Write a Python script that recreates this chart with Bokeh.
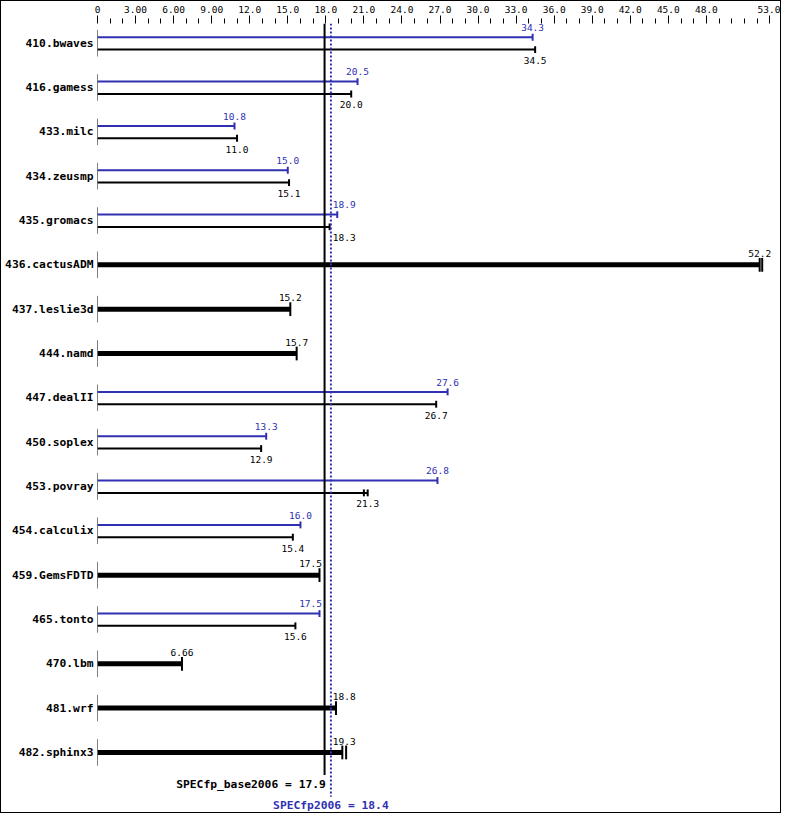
from bokeh.plotting import figure
from bokeh.models import Range1d, FixedTicker, ColumnDataSource
from bokeh.core.properties import value
from bokeh.embed import file_html
from bokeh.resources import INLINE

# ---------------- data ----------------
benchmarks = ["410.bwaves", "416.gamess", "433.milc", "434.zeusmp", "435.gromacs",
              "436.cactusADM", "437.leslie3d", "444.namd", "447.dealII", "450.soplex",
              "453.povray", "454.calculix", "459.GemsFDTD", "465.tonto", "470.lbm",
              "481.wrf", "482.sphinx3"]
base_vals = [34.5, 20.0, 11.0, 15.1, 18.3, 52.2, 15.2, 15.7, 26.7, 12.9,
             21.3, 15.4, 17.5, 15.6, 6.66, 18.8, 19.3]
peak_vals = [34.3, 20.5, 10.8, 15.0, 18.9, None, None, None, 27.6, 13.3,
             26.8, 16.0, None, 17.5, None, None, None]
# extra individual run markers seen on some bars
extra_bench = ["436.cactusADM", "453.povray", "482.sphinx3"]
extra_vals = [52.4, 21.0, 19.6]

spec_base = 17.9
spec_peak = 18.4
base_title = "SPECfp_base2006 = 17.9"
peak_title = "SPECfp2006 = 18.4"

tick_values = [0, 3, 6, 9, 12, 15, 18, 21, 24, 27, 30, 33, 36, 39, 42, 45, 48, 53]
tick_labels = ["0", "3.00", "6.00", "9.00", "12.0", "15.0", "18.0", "21.0", "24.0",
               "27.0", "30.0", "33.0", "36.0", "39.0", "42.0", "45.0", "48.0", "53.0"]
minor_values = [v for v in range(1, 53) if v not in tick_values]

# ---------------- style ----------------
BLUE = "#3030b2"
FONT = "DejaVu Sans Mono"
W, H = 781, 813
TOP = 22
LEFT = 96
ROW_PX = 45.0
y_top = -20 / ROW_PX
y_bot = 16 + 63 / ROW_PX
x_end = 54.0
px_per_x = (W - LEFT) / x_end
DY_PEAK = -6 / ROW_PX
DY_BASE = 6.5 / ROW_PX
CAP_THIN = 3.5 / ROW_PX
CAP_THICK = 7 / ROW_PX
AXSEG = 13.5 / ROW_PX
LBL_PEAK = -16 / ROW_PX
LBL_BASE = 17.5 / ROW_PX
LBL_THICK = -11.5 / ROW_PX
TICK_FS = 9.5
CHAR_W = 0.602 * TICK_FS

def fmt(v):
    return f"{v:.2f}" if v < 10 else f"{v:.1f}"

p = figure(width=W, height=H, output_backend="svg", toolbar_location=None,
           x_range=Range1d(0, x_end), y_range=Range1d(y_bot, y_top),
           x_axis_location="above", min_border_left=LEFT, min_border_top=TOP,
           min_border_right=0, min_border_bottom=0)
p.styles = {"border": "1px solid black"}
p.outline_line_color = None
p.grid.visible = False
p.background_fill_color = "white"
p.border_fill_color = "white"

# top axis
xa = p.xaxis[0]
xa.ticker = FixedTicker(ticks=tick_values, minor_ticks=minor_values)
xa.major_label_overrides = {v: lab for v, lab in zip(tick_values, tick_labels)}
xa.axis_line_color = None
xa.major_tick_out = 8
xa.major_tick_in = 0
xa.minor_tick_out = 5
xa.minor_tick_in = 0
xa.major_tick_line_color = "black"
xa.minor_tick_line_color = "black"
xa.major_label_standoff = 3
xa.major_label_text_font = FONT
xa.major_label_text_font_size = f"{TICK_FS}px"
xa.major_label_text_color = "black"

# left axis with benchmark names
ya = p.yaxis[0]
ya.ticker = FixedTicker(ticks=list(range(len(benchmarks))), minor_ticks=[])
ya.major_label_overrides = {i: b for i, b in enumerate(benchmarks)}
ya.axis_line_color = None
ya.major_tick_line_color = None
ya.minor_tick_line_color = None
ya.major_tick_out = 0
ya.major_tick_in = 0
ya.minor_tick_out = 0
ya.minor_tick_in = 0
ya.major_label_standoff = 4
ya.major_label_text_font = FONT
ya.major_label_text_font_style = "bold"
ya.major_label_text_font_size = "11.3px"
ya.major_label_text_color = "black"

# build bar data
thin_peak = dict(x1=[], y=[])
thin_base = dict(x1=[], y=[])
thick = dict(x1=[], y=[])
caps_thin_peak = dict(x=[], y0=[], y1=[])
caps_thin_base = dict(x=[], y0=[], y1=[])
caps_thick = dict(x=[], y0=[], y1=[])
lab_blue = dict(x=[], y=[], t=[], a=[])
lab_black = dict(x=[], y=[], t=[], a=[])
rowaxis = dict(y0=[], y1=[])

hw4 = (4 * CHAR_W / 2) / px_per_x

def label_pos_for(v):
    if v - hw4 < spec_peak + 0.1 and v + hw4 > spec_base - 0.1:
        if v < spec_base:
            return spec_base - 0.2, "right"
        return spec_peak + 0.15, "left"
    return v, "center"

for i, (b, bv, pv) in enumerate(zip(benchmarks, base_vals, peak_vals)):
    rowaxis["y0"].append(i - AXSEG)
    rowaxis["y1"].append(i + AXSEG)
    if pv is None:
        thick["x1"].append(bv); thick["y"].append(i)
        caps_thick["x"].append(bv); caps_thick["y0"].append(i - CAP_THICK); caps_thick["y1"].append(i + CAP_THICK)
        x, a = label_pos_for(bv)
        lab_black["x"].append(x); lab_black["y"].append(i + LBL_THICK); lab_black["t"].append(fmt(bv)); lab_black["a"].append(a)
    else:
        yp, yb = i + DY_PEAK, i + DY_BASE
        thin_peak["x1"].append(pv); thin_peak["y"].append(yp)
        thin_base["x1"].append(bv); thin_base["y"].append(yb)
        caps_thin_peak["x"].append(pv); caps_thin_peak["y0"].append(yp - CAP_THIN); caps_thin_peak["y1"].append(yp + CAP_THIN)
        caps_thin_base["x"].append(bv); caps_thin_base["y0"].append(yb - CAP_THIN); caps_thin_base["y1"].append(yb + CAP_THIN)
        x, a = label_pos_for(pv)
        lab_blue["x"].append(x); lab_blue["y"].append(i + LBL_PEAK); lab_blue["t"].append(fmt(pv)); lab_blue["a"].append(a)
        x, a = label_pos_for(bv)
        lab_black["x"].append(x); lab_black["y"].append(i + LBL_BASE); lab_black["t"].append(fmt(bv)); lab_black["a"].append(a)

for b, ev in zip(extra_bench, extra_vals):
    i = benchmarks.index(b)
    if peak_vals[i] is None:
        caps_thick["x"].append(ev); caps_thick["y0"].append(i - CAP_THICK); caps_thick["y1"].append(i + CAP_THICK)
    else:
        yb = i + DY_BASE
        caps_thin_base["x"].append(ev); caps_thin_base["y0"].append(yb - CAP_THIN); caps_thin_base["y1"].append(yb + CAP_THIN)

# bars
p.segment(x0=0, y0="y", x1="x1", y1="y", source=ColumnDataSource(thin_peak), line_color=BLUE, line_width=2)
p.segment(x0=0, y0="y", x1="x1", y1="y", source=ColumnDataSource(thin_base), line_color="black", line_width=2)
p.segment(x0=0, y0="y", x1="x1", y1="y", source=ColumnDataSource(thick), line_color="black", line_width=5)
p.segment(x0="x", y0="y0", x1="x", y1="y1", source=ColumnDataSource(caps_thin_peak), line_color=BLUE, line_width=2)
p.segment(x0="x", y0="y0", x1="x", y1="y1", source=ColumnDataSource(caps_thin_base), line_color="black", line_width=2)
p.segment(x0="x", y0="y0", x1="x", y1="y1", source=ColumnDataSource(caps_thick), line_color="black", line_width=2)
p.segment(x0=0, y0="y0", x1=0, y1="y1", source=ColumnDataSource(rowaxis), line_color="black", line_width=1)

# overall score lines
n = len(benchmarks)
p.segment(x0=[spec_base], y0=[y_top], x1=[spec_base], y1=[n - 1 + 23 / ROW_PX], line_color="black", line_width=2)
p.segment(x0=[spec_peak], y0=[y_top], x1=[spec_peak], y1=[n - 1 + 45 / ROW_PX], line_color=BLUE, line_width=2, line_dash="2 2")

# value labels
p.text(x="x", y="y", text="t", text_align="a", source=ColumnDataSource(lab_blue), text_baseline="middle",
       text_font=value(FONT), text_font_size=f"{TICK_FS}px", text_color=BLUE)
p.text(x="x", y="y", text="t", text_align="a", source=ColumnDataSource(lab_black), text_baseline="middle",
       text_font=value(FONT), text_font_size=f"{TICK_FS}px", text_color="black")

# score texts
p.text(x=[spec_base + 0.1], y=[n - 1 + 33 / ROW_PX], text=[base_title], text_align="right", text_baseline="middle",
       text_font=value(FONT), text_font_style="bold", text_font_size="11.3px", text_color="black")
p.text(x=[spec_peak], y=[n - 1 + 54 / ROW_PX], text=[peak_title], text_align="center", text_baseline="middle",
       text_font=value(FONT), text_font_style="bold", text_font_size="11.3px", text_color=BLUE)

open("out.html", "w").write(file_html(p, INLINE))
